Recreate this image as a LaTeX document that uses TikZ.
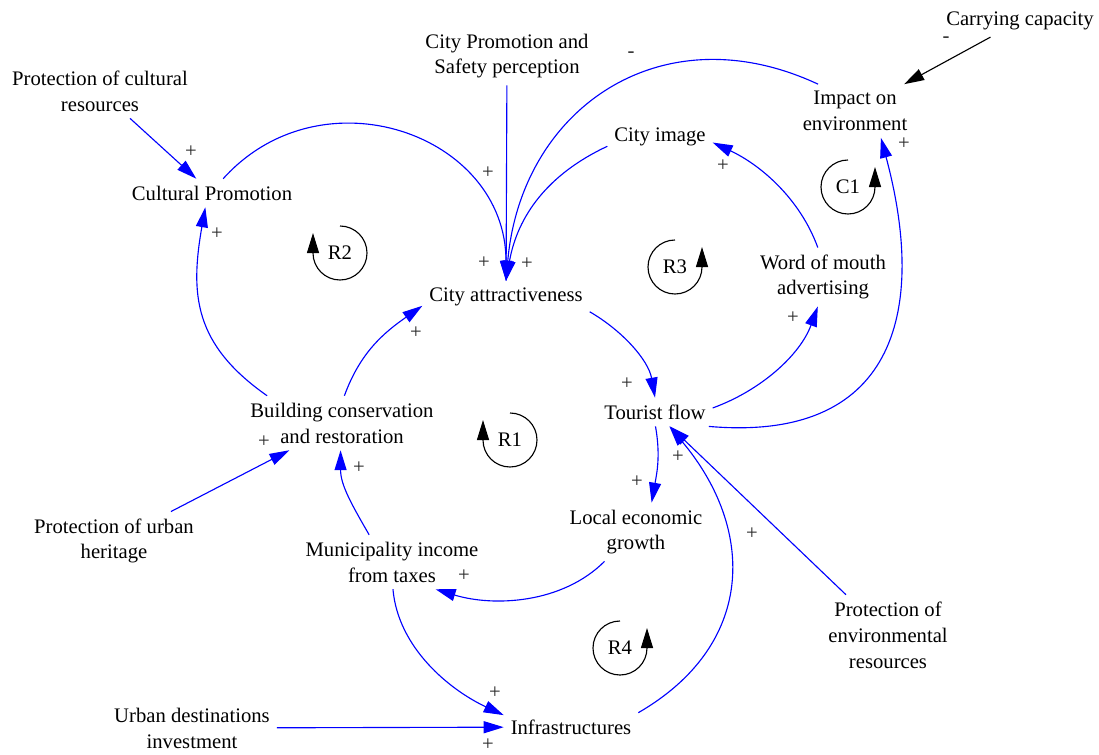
\documentclass[tikz,border=0pt]{standalone}
\usepackage{fontspec}
\setmainfont{Liberation Serif}
\usetikzlibrary{arrows.meta}

\begin{document}
\begin{tikzpicture}[x=0.25mm,y=0.25mm,
    var/.style={align=center,inner sep=2pt,outer sep=3pt,font=\fontsize{14.7}{18.4}\selectfont},
    sgn/.style={inner sep=0pt,text=black!85,font=\fontsize{14.7}{16}\selectfont},
    link/.style={draw=blue,line width=0.8pt,-{Triangle[length=5mm,width=3mm]}},
    blacklink/.style={draw=black,line width=0.8pt,-{Triangle[length=5mm,width=3mm]}},
    loopsign/.style={draw=black,line width=0.8pt,-{Triangle[length=5mm,width=3mm]}},
    looptext/.style={inner sep=0pt,font=\fontsize{14.7}{16}\selectfont}]
        \useasboundingbox (0,0) rectangle (1099,-754);

        \node[var] (protcult) at (100,-91) {Protection of cultural\\resources};
        \node[var] (citypromo) at (507,-56) {City Promotion and\\Safety perception};
        \node[var] (carrying) at (1020,-21) {Carrying capacity};
        \node[var] (impact) at (855,-111) {Impact on\\environment};
        \node[var] (cityimage) at (660,-137) {City image};
        \node[var] (cultpromo) at (212,-193) {Cultural Promotion};
        \node[var] (cityattr) at (506,-297) {City attractiveness};
        \node[var] (wom) at (823,-277) {Word of mouth\\advertising};
        \node[var] (building) at (342,-423) {Building conservation\\and restoration};
        \node[var] (tourist) at (655,-412) {Tourist flow};
        \node[var] (local) at (636,-532) {Local economic\\growth};
        \node[var] (munic) at (392,-562) {Municipality income\\from taxes};
        \node[var] (protur) at (114,-541) {Protection of urban\\heritage};
        \node[var] (protenv) at (888,-635) {Protection of\\environmental\\resources};
        \node[var] (urban) at (192,-728) {Urban destinations\\investment};
        \node[var] (infra) at (571,-727) {Infrastructures};

        \draw[link] (protcult) -- (cultpromo);
        \draw[link] (cultpromo.52) to[out=48,in=90,looseness=1.25] (cityattr.north);
        \draw[link] (citypromo) -- (cityattr);
        \draw[link] (impact.144) to[out=155,in=85,looseness=1.2] (cityattr.north);
        \draw[link] (cityimage.190) to[out=205,in=80] (cityattr.north);
        \draw[link] (wom.100) to[out=110,in=-25,looseness=0.9] (cityimage.-6);
        \draw[link] (tourist.4) to[out=20,in=-110,looseness=0.9] (wom.-100);
        \draw[link] (tourist.-15) to[out=-5,in=-75,looseness=1.4] (impact.-46);
        \draw[link] (cityattr.-10) to[out=-30,in=100,looseness=0.9] (tourist.north);
        \draw[link] (tourist.-88) to[out=-80,in=80] (local.62);
        \draw[link] (local.223) to[out=225,in=-17,looseness=0.9] (munic.-32);
        \draw[link] (munic.130) to[out=120,in=-90] (building.-93);
        \draw[link] (building.85) to[out=70,in=215] (cityattr.186);
        \draw[link] (building.160) to[out=145,in=-100,looseness=1.15] (cultpromo.-115);
        \draw[link] (protur) -- (building);
        \draw[link] (munic.-88) to[out=-85,in=155,looseness=0.9] (infra.170);
        \draw[link] (urban) -- (infra);
        \draw[link] (infra.12) to[out=30,in=-50,looseness=1.2] (tourist.-45);
        \draw[link] (protenv) -- (tourist);
        \draw[blacklink] (carrying) -- (impact);

        \node[sgn] (s1) at (191,-152) {+};
        \node[sgn] (s2) at (488,-173) {+};
        \node[sgn] (s3) at (484,-263) {+};
        \node[sgn] (s4) at (527,-264) {+};
        \node[sgn] (s5) at (631,-55) {-};
        \node[sgn] (s6) at (946,-40) {-};
        \node[sgn] (s7) at (723,-166) {+};
        \node[sgn] (s8) at (904,-144) {+};
        \node[sgn] (s9) at (217,-234) {+};
        \node[sgn] (s10) at (416,-333) {+};
        \node[sgn] (s11) at (627,-384) {+};
        \node[sgn] (s12) at (793,-318) {+};
        \node[sgn] (s13) at (264,-442) {+};
        \node[sgn] (s14) at (359,-468) {+};
        \node[sgn] (s15) at (678,-457) {+};
        \node[sgn] (s16) at (637,-482) {+};
        \node[sgn] (s17) at (464,-576) {+};
        \node[sgn] (s18) at (752,-534) {+};
        \node[sgn] (s19) at (495,-693) {+};
        \node[sgn] (s20) at (488,-745) {+};

        \node[looptext] (r1) at (510,-440) {R1};
        \node[looptext] (r2) at (340,-253) {R2};
        \node[looptext] (r3) at (675,-267) {R3};
        \node[looptext] (r4) at (620,-648) {R4};
        \node[looptext] (c1) at (848,-187) {C1};
        \draw[loopsign] ([yshift=6.75mm]r1.center) arc[start angle=90,end angle=-180,radius=27] -- ++(0,20);
        \draw[loopsign] ([yshift=6.75mm]r2.center) arc[start angle=90,end angle=-180,radius=27] -- ++(0,20);
        \draw[loopsign] ([yshift=6.75mm]r3.center) arc[start angle=90,end angle=360,radius=27] -- ++(0,20);
        \draw[loopsign] ([yshift=6.75mm]r4.center) arc[start angle=90,end angle=360,radius=27] -- ++(0,20);
        \draw[loopsign] ([yshift=6.75mm]c1.center) arc[start angle=90,end angle=360,radius=27] -- ++(0,20);
\end{tikzpicture}
\end{document}
